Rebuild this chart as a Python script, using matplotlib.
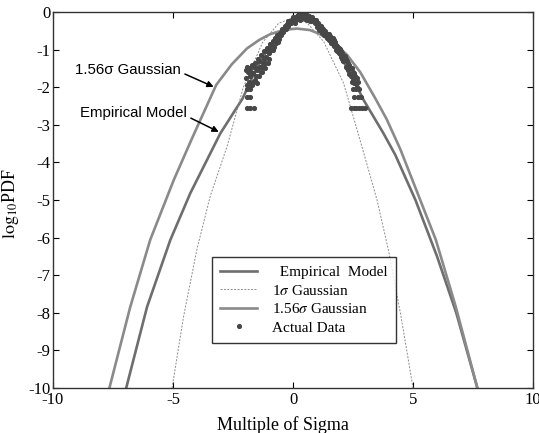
import matplotlib
matplotlib.use("Agg")
import matplotlib.pyplot as plt

plt.rcParams["font.family"] = ["Liberation Serif", "DejaVu Serif"]
plt.rcParams["mathtext.fontset"] = "stix"
plt.rcParams["axes.unicode_minus"] = False

# curves (x in multiples of sigma, y = log10 PDF)
emp_x = [-6.95, -6.08, -5.11, -4.28, -3.03, -2.55, -2.1, -1.6, -1.07, -0.4, 0.0, 0.37, 0.7,
         1.09, 1.81, 2.4, 2.94, 3.77, 4.26, 5.1, 6.0, 6.8, 7.68]
emp_y = [-10, -7.84, -6.06, -4.82, -3.23, -2.75, -2.3, -1.6, -1.0, -0.45, -0.15, -0.05, -0.13,
         -0.4, -1.0, -1.65, -2.34, -3.23, -3.8, -5.0, -6.5, -8.0, -10]

g156_x = [-7.65, -6.78, -5.95, -4.97, -4.2, -3.2, -2.55, -1.92, -1.4, -0.95, -0.4, 0.15, 0.7,
          1.1, 1.7, 2.25, 2.8, 3.43, 3.9, 4.47, 5.3, 5.95, 6.78, 7.68]
g156_y = [-10, -7.84, -6.06, -4.47, -3.35, -1.94, -1.39, -0.97, -0.74, -0.59, -0.48, -0.44,
          -0.48, -0.58, -0.82, -1.14, -1.6, -2.3, -2.85, -3.65, -5.0, -6.06, -7.84, -10]

g1_x = [-5.04, -4.56, -4.0, -3.45, -2.75, -2.07, -1.28, -0.6, 0.0, 0.6, 1.28, 2.11, 2.87,
        3.5, 3.98, 4.5, 5.0]
g1_y = [-10, -8.1, -6.3, -4.9, -3.58, -2.0, -0.82, -0.3, -0.15, -0.3, -0.79, -1.9, -3.58,
        -5.0, -6.35, -8.1, -10]

# measured points
data_x = [-1.95, -1.9, -1.88, -1.85, -1.8, -1.78, -1.72, -1.7, -1.65, -1.6, -1.58, -1.52, -1.5,
          -1.45, -1.42, -1.38, -1.32, -1.3, -1.25, -1.2, -1.18, -1.12, -1.08, -1.05, -1.0,
          -0.95, -0.9, -0.85, -0.8, -0.75, -0.7, -0.65, -0.6, -0.55, -0.5, -0.45, -0.4, -0.35,
          -0.3, -0.25, -0.2, -0.15, -0.1, -0.05, 0.0, 0.05, 0.1, 0.15, 0.2, 0.25, 0.3, 0.35,
          0.4, 0.45, 0.5, 0.55, 0.6, 0.65, 0.7, 0.75, 0.8, 0.85, 0.9, 0.95,
          1.0, 1.05, 1.1, 1.15, 1.2, 1.25, 1.3, 1.35, 1.4, 1.45, 1.5, 1.55, 1.6, 1.65, 1.7,
          1.75, 1.8, 1.85, 1.9, 1.95, 2.0, 2.05, 2.1, 2.15, 2.2, 2.25, 2.3, 2.35, 2.4, 2.45,
          2.5, 2.55, 2.6, 2.65,
          1.1, 1.2, 1.3, 1.35, 1.45, 1.5, 1.6, 1.65, 1.7, 1.8, 1.85, 1.9, 2.0, 2.05, 2.1,
          2.2, 2.25, 2.3, 2.35, 2.4, 2.5, 2.45, 2.55, 2.6, 2.7, 2.65,
          -1.95, -1.9, -1.85, -1.75, -1.68, -1.62, -1.55, -1.48, -1.4, -1.35, -1.28, -1.22,
          -1.15, -1.1, -1.02, -0.98, -0.9, -0.82, -0.72, -0.62,
          -0.2, 0.0, 0.1, 0.2, 0.3, 0.4, 0.5, 0.6, 0.7, 0.8, 0.9, 1.0,
          -1.9, -1.8, -1.9, -1.8, -1.92, -1.78, -1.64,
          2.5, 2.62, 2.75, 2.55, 2.7, 2.85, 2.4, 2.52, 2.64, 2.76, 2.88, 3.0]
data_y = [-1.75, -1.95, -1.6, -1.85, -1.5, -1.7, -1.95, -1.4, -1.62, -1.8, -1.35, -1.55, -1.9,
          -1.25, -1.7, -1.45, -1.15, -1.6, -1.35, -1.05, -1.5, -1.2, -0.95, -1.35, -1.1,
          -0.85, -1.0, -0.78, -0.92, -0.7, -0.82, -0.62, -0.72, -0.55, -0.62, -0.45, -0.52,
          -0.38, -0.45, -0.32, -0.38, -0.25, -0.3, -0.2, -0.25, -0.15, -0.2, -0.1, -0.18,
          -0.06, -0.12, -0.04, -0.1, -0.15, -0.07, -0.12, -0.2, -0.1, -0.16, -0.24, -0.14,
          -0.22, -0.3, -0.2,
          -0.4, -0.3, -0.48, -0.38, -0.55, -0.45, -0.6, -0.5, -0.68, -0.58, -0.75, -0.65,
          -0.82, -0.7, -0.9, -0.8, -1.0, -0.9, -1.1, -0.98, -1.2, -1.08, -1.3, -1.18, -1.45,
          -1.3, -1.55, -1.4, -1.7, -1.5, -1.8, -1.62, -1.9, -1.75,
          -0.35, -0.42, -0.5, -0.62, -0.7, -0.58, -0.72, -0.85, -0.75, -0.88, -1.05, -0.95,
          -1.05, -1.25, -1.15, -1.25, -1.5, -1.35, -1.65, -1.5, -1.6, -1.85, -1.9, -1.7,
          -1.85, -2.0,
          -1.55, -1.45, -2.0, -1.6, -1.85, -1.45, -1.7, -1.5, -1.3, -1.6, -1.45, -1.25,
          -1.35, -1.05, -1.25, -0.95, -0.85, -1.0, -0.7, -0.8,
          -0.25, -0.12, -0.28, -0.08, -0.2, -0.03, -0.18, -0.08, -0.25, -0.18, -0.22, -0.3,
          -2.05, -2.05, -2.27, -2.27, -2.55, -2.55, -2.55,
          -2.05, -2.05, -2.05, -2.27, -2.27, -2.27, -2.55, -2.55, -2.55, -2.55, -2.55, -2.55]

xticks = [-10, -5, 0, 5, 10]
yticks = list(range(-10, 1))

sans = "Liberation Sans"

fig = plt.figure(figsize=(5.39, 4.33), dpi=100)
ax = fig.add_axes([0.0983, 0.1039, 0.8907, 0.8684])

ax.plot(emp_x, emp_y, color="#6e6e6e", lw=1.9, label="  Empirical  Model")
ax.plot(g1_x, g1_y, color="#8c8c8c", lw=0.7, ls=(0, (2, 1.5)), label=r"1$\sigma$ Gaussian")
ax.plot(g156_x, g156_y, color="#8a8a8a", lw=1.9, label=r"1.56$\sigma$ Gaussian")
ax.plot(data_x, data_y, ls="none", marker="o", ms=2.7, color="#474747", mec="#474747",
        label="Actual Data")

ax.set_xlim(-10, 10)
ax.set_ylim(-10, 0)
ax.set_xticks(xticks)
ax.set_yticks(yticks)
ax.tick_params(direction="in", length=4, width=0.8, top=True, right=True, labelsize=12,
               pad=2)
ax.tick_params(axis="x", pad=3)
for s in ax.spines.values():
    s.set_color("#333333")
    s.set_linewidth(1.0)

ax.set_xlabel("Multiple of Sigma", fontsize=13)
ax.xaxis.set_label_coords(0.478, -0.075)
ax.set_ylabel(r"$\mathrm{log}_{10}$PDF", fontsize=13)
ax.yaxis.set_label_coords(-0.066, 0.49)

# callouts
ax.text(-9.07, -1.54, "1.56\u03c3 Gaussian", fontfamily=sans, fontsize=10.8, va="center")
ax.annotate("", xy=(-3.2, -2.02), xytext=(-4.61, -1.62),
            arrowprops=dict(arrowstyle="-|>", color="black", lw=1.1, mutation_scale=9))
ax.text(-8.86, -2.69, "Empirical Model", fontfamily=sans, fontsize=10.8, va="center")
ax.annotate("", xy=(-2.99, -3.22), xytext=(-4.36, -2.79),
            arrowprops=dict(arrowstyle="-|>", color="black", lw=1.1, mutation_scale=9))

leg = ax.legend(loc="upper left", bbox_to_anchor=(0.331, 0.348), frameon=True, fancybox=False,
                edgecolor="black", fontsize=11, handlelength=2.4, borderpad=0.55,
                labelspacing=0.3, handletextpad=1.0, borderaxespad=0)
leg.get_frame().set_linewidth(1.0)

fig.savefig("out.png", dpi=100)
